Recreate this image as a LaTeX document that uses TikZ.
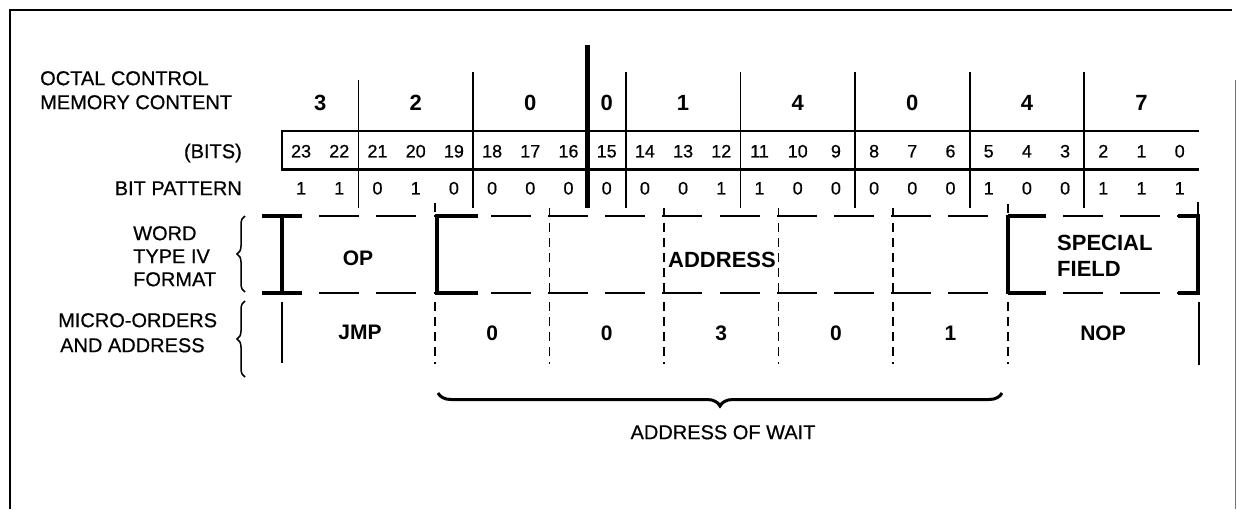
\documentclass[tikz,border=0pt]{standalone}
\usepackage{fontspec}
\setmainfont{Liberation Sans}
\newfontfamily\medfont{Liberation Sans}[FakeBold=0.6]
\usetikzlibrary{decorations.pathreplacing}
\begin{document}
\begin{tikzpicture}[x=1pt,y=-1pt,
  lbl/.style={inner sep=0pt, font=\medfont\fontsize{20}{24}\selectfont, text height=14.3pt, text depth=0pt},
  num/.style={inner sep=0pt, font=\medfont\fontsize{18}{20}\selectfont, text height=12.9pt, text depth=0pt},
  oct/.style={inner sep=0pt, font=\fontsize{22}{24}\selectfont\bfseries, text height=15.8pt, text depth=0pt},
  bld/.style={inner sep=0pt, font=\fontsize{21}{24}\selectfont\bfseries, text height=15pt, text depth=0pt},
  frameline/.style={line width=1.6pt},
  sepline/.style={line width=1.8pt},
  boxline/.style={line width=2.6pt},
  longdash/.style={line width=2.6pt, dash pattern=on 40pt off 17.2pt},
  shortdash/.style={line width=1.5pt, dash pattern=on 9pt off 6pt},
  heavy/.style={line width=4.5pt},
  bracebar/.style={decorate, line width=1.5pt},
]
\useasboundingbox (0,0) rectangle (1237,509);
% frame
\draw[frameline] (10,509) -- (10,10) -- (1232,10);
\draw[line width=1pt, black!55] (1235,80) -- (1235,509);

% left labels
\node[lbl, anchor=west] (oc1) at (40,78) {OCTAL CONTROL};
\node[lbl, anchor=west] (oc2) at (40,102) {MEMORY CONTENT};
\node[lbl, anchor=east] (bitslbl) at (242,151) {(BITS)};
\node[lbl, anchor=east] (bplbl) at (242,188) {BIT PATTERN};
\node[lbl, anchor=west] (w1) at (133,233) {WORD};
\node[lbl, anchor=west] (w2) at (133,256) {TYPE IV};
\node[lbl, anchor=west] (w3) at (133,279) {FORMAT};
\node[lbl, anchor=west] (m1) at (58,320) {MICRO-ORDERS};
\node[lbl, anchor=west] (m2) at (60,345) {AND ADDRESS};
\draw[bracebar, decoration={brace, amplitude=8pt}] (245,292) -- (245,216);
\draw[bracebar, decoration={brace, amplitude=8pt}] (245,377) -- (245,301);

% octal separators
\foreach \k/\t in {2/80, 5/72, 9/72, 12/72, 15/72, 18/72, 21/72}
  \draw[sepline] ({282+38.2*\k},\t) -- ({282+38.2*\k},208);
\draw[heavy] ({282+38.2*8},45) -- ({282+38.2*8},208);

% bits box
\draw[boxline] (1199,131) -- (282,131) -- (282,169.5) -- (1199,169.5);

% octal digits
\foreach \c/\d [count=\i] in {0/3, 2/2, 5/0, 8/0, 9/1, 12/4, 15/0, 18/4, 21/7}{
  \pgfmathsetmacro{\w}{ifthenelse(\i==1,2,ifthenelse(\i==4,1,3))}
  \node[oct] (oct\i) at ({282+38.2*(\c+\w/2)},103) {\d};
}

% bit numbers and bit pattern
\foreach \v [count=\j from 0] in {1,1,0,1,0,0,0,0,0,0,0,1,1,0,0,0,0,0,1,0,0,1,1,1}{
  \pgfmathtruncatemacro{\b}{23-\j}
  \node[num] (bit\b) at ({282+38.2*(\j+0.5)},151) {\b};
  \node[num] (pat\b) at ({282+38.2*(\j+0.5)},188) {\v};
}

% word format row
\draw[longdash] (262,216) -- (1199,216);
\draw[longdash] (262,293) -- (1199,293);
\draw[heavy] (282,216) -- (282,293);
\draw[line width=3.2pt] (262,216) -- (302,216) (262,293) -- (302,293);
\draw[heavy, line cap=rect] (476,216) -- (437,216) -- (437,293) -- (476,293);
\draw[heavy] (1008,216) -- (1008,293);
\draw[line width=3.2pt] (1008,216) -- (1046,216) (1008,293) -- (1046,293);
\draw[heavy, line cap=rect] (1180,216) -- (1198,216) -- (1198,293) -- (1180,293);
\foreach \k in {7,10,13,16}
  \draw[shortdash] ({282+38.2*\k},208) -- ({282+38.2*\k},293);
\draw[line width=1.5pt] ({282+38.2*4},203) -- ({282+38.2*4},212);
\draw[shortdash] ({282+38.2*19},204) -- ({282+38.2*19},216);
\draw[line width=1.5pt] (1198,202) -- (1198,216);

\node[bld] (op) at (358,258) {OP};
\node[bld, font=\fontsize{22}{24}\selectfont\bfseries] (addr) at (722,260) {ADDRESS};
\node[bld, anchor=west, font=\fontsize{22}{24}\selectfont\bfseries] (sp1) at (1057,243) {SPECIAL};
\node[bld, anchor=west, font=\fontsize{22}{24}\selectfont\bfseries] (sp2) at (1057,269) {FIELD};

% micro-orders row
\draw[line width=1.5pt] (282,302) -- (282,363);
\draw[line width=1.5pt] (1198.8,302) -- (1198.8,365);
\foreach \k in {4,7,10,13,16,19}
  \draw[shortdash] ({282+38.2*\k},302) -- ({282+38.2*\k},364);
\node[bld] (jmp) at (360,332) {JMP};
\foreach \k/\d [count=\i] in {4/0, 7/0, 10/3, 13/0, 16/1}
  \node[bld] (ma\i) at ({282+38.2*(\k+1.5)},333) {\d};
\node[bld] (nop) at (1103,333) {NOP};

% address of wait
\draw[decorate, decoration={brace, amplitude=13pt}, line width=3pt] (1002,393) -- (438,393);
\node[lbl] (aow) at (723,432) {ADDRESS OF WAIT};
\end{tikzpicture}
\end{document}
